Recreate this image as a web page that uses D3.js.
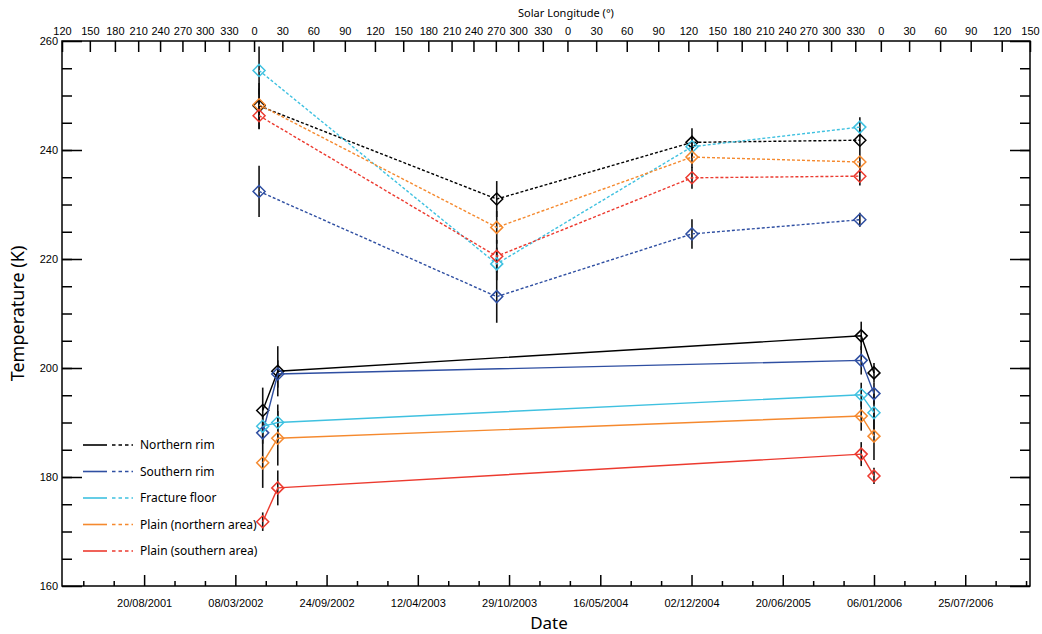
<!DOCTYPE html>
<html>
<head>
<meta charset="utf-8">
<script src="https://cdn.jsdelivr.net/npm/d3@7"></script>
<style>
	body { margin: 0; background: #fff; }
	svg { display: block; font-family: 'Noto Sans', sans-serif; }
	.axis text { font-size: 11px; fill: #000; }
	.axis line { stroke: #000; stroke-width: 1.5; }
	.axis path { display: none; }
</style>
</head>
<body>
<svg class="chart" width="1042" height="634"></svg>
<script>
(function() {

	// series
	var seriesNames = ['Northern rim', 'Southern rim', 'Fracture floor', 'Plain (northern area)', 'Plain (southern area)']
	var seriesColors = ['#000000', '#2f4fa2', '#3fc1e0', '#f5892e', '#ec3a2f']

	// daytime (dashed) observations
	var dayDates = ['2002-04-29', '2003-10-02', '2004-12-03', '2005-12-06']
	var dayTemps = [
		[248.1, 231.0, 241.4, 241.8],
		[232.4, 213.1, 224.6, 227.2],
		[254.6, 219.1, 240.6, 244.2],
		[248.3, 225.8, 238.7, 237.8],
		[246.3, 220.5, 234.9, 235.2]
	]
	var dayErrors = [
		[4.2, 3.3, 2.6, 2.0],
		[4.7, 4.8, 2.7, 1.3],
		[4.4, 3.0, 2.0, 1.8],
		[3.0, 3.0, 2.0, 2.0],
		[2.5, 3.0, 2.0, 1.7]
	]

	// nighttime (solid) observations
	var nightDates = ['2002-05-07', '2002-06-09', '2005-12-09', '2006-01-06']
	var nightTemps = [
		[192.2, 199.4, 205.9, 199.1],
		[188.1, 198.9, 201.4, 195.3],
		[189.3, 190.0, 195.1, 191.8],
		[182.6, 187.1, 191.2, 187.5],
		[171.8, 178.0, 184.2, 180.2]
	]
	var nightErrors = [
		[4.2, 4.6, 2.6, 1.8],
		[2.0, 2.5, 2.6, 2.0],
		[2.0, 3.3, 2.2, 3.5],
		[4.6, 5.0, 2.7, 4.4],
		[1.7, 3.2, 2.2, 1.5]
	]

	// axes
	var dateDomain = ['2001-02-21', '2006-12-14']
	var dateTickLabels = ['20/08/2001', '08/03/2002', '24/09/2002', '12/04/2003', '29/10/2003',
		'16/05/2004', '02/12/2004', '20/06/2005', '06/01/2006', '25/07/2006']
	var tempTicks = [160, 180, 200, 220, 240, 260]
	var lsTickLabels = [120, 150, 180, 210, 240, 270, 300, 330, 0, 30, 60, 90,
		120, 150, 180, 210, 240, 270, 300, 330, 0, 30, 60, 90,
		120, 150, 180, 210, 240, 270, 300, 330, 0, 30, 60, 90, 120, 150]
	var lsTickDates = ['2001-02-21', '2001-04-23', '2001-06-17', '2001-08-07', '2001-09-24', '2001-11-12',
		'2001-12-31', '2002-02-22', '2002-04-18', '2002-06-19', '2002-08-26', '2002-11-03',
		'2003-01-08', '2003-03-11', '2003-05-05', '2003-06-25', '2003-08-12', '2003-09-30',
		'2003-11-18', '2004-01-11', '2004-03-05', '2004-05-07', '2004-07-13', '2004-09-20',
		'2004-11-25', '2005-01-27', '2005-03-22', '2005-05-12', '2005-06-29', '2005-08-15',
		'2005-10-04', '2005-11-26', '2006-01-21', '2006-03-24', '2006-05-31', '2006-08-06',
		'2006-10-13', '2006-12-14']

	var svg = d3.select('.chart')
	var margin = { top: 41, left: 62, right: 12, bottom: 48 }
	var chartWidth = 1042 - margin.left - margin.right
	var chartHeight = 634 - margin.top - margin.bottom
	var parseIso = d3.timeParse('%Y-%m-%d')
	var parseDmy = d3.timeParse('%d/%m/%Y')
	var scales = {}

	var g = svg.append('g')
		.attr('transform', 'translate(' + margin.left + ',' + margin.top + ')')

	function setupScales() {
		scales.x = d3.scaleTime().domain(dateDomain.map(parseIso)).range([0, chartWidth])
		scales.y = d3.scaleLinear().domain([160, 260]).range([chartHeight, 0])
	}

	function buildPoints(dates, temps, errors) {
		return temps.map(function(row, i) {
			return row.map(function(t, j) {
				return { date: parseIso(dates[j]), temp: t, err: errors[i][j] }
			})
		})
	}

	function drawAxes() {
		var majors = dateTickLabels.map(parseDmy)
		var step = 200 / 3 * 864e5
		var minors = []
		var first = majors[0].getTime()
		for (var k = -2; k <= (majors.length - 1) * 3 + 2; k++) {
			if (k % 3 === 0) continue
			var t = new Date(first + k * step)
			if (t >= scales.x.domain()[0] && t <= scales.x.domain()[1]) minors.push(t)
		}

		g.append('g').attr('class', 'axis')
			.attr('transform', 'translate(0,' + chartHeight + ')')
			.call(d3.axisBottom(scales.x).tickValues(majors).tickSizeInner(-11).tickPadding(13)
				.tickFormat(function(d, i) { return dateTickLabels[i] }))

		g.append('g').attr('class', 'axis')
			.attr('transform', 'translate(0,' + chartHeight + ')')
			.call(d3.axisBottom(scales.x).tickValues(minors).tickSizeInner(-5).tickFormat(''))

		g.append('g').attr('class', 'axis')
			.call(d3.axisTop(scales.x).tickValues(lsTickDates.map(parseIso)).tickSizeInner(-11).tickPadding(6)
				.tickFormat(function(d, i) { return lsTickLabels[i] }))

		g.append('g').attr('class', 'axis')
			.call(d3.axisLeft(scales.y).tickValues(tempTicks).tickSizeInner(-20).tickPadding(4))

		g.append('g').attr('class', 'axis')
			.call(d3.axisLeft(scales.y).tickValues(d3.range(165, 260, 5)).tickSizeInner(-10).tickFormat(''))

		g.append('g').attr('class', 'axis')
			.attr('transform', 'translate(' + chartWidth + ',0)')
			.call(d3.axisRight(scales.y).tickValues(tempTicks).tickSizeInner(-20).tickFormat(''))

		g.append('g').attr('class', 'axis')
			.attr('transform', 'translate(' + chartWidth + ',0)')
			.call(d3.axisRight(scales.y).tickValues(d3.range(165, 260, 5)).tickSizeInner(-10).tickFormat(''))

		g.append('rect')
			.attr('width', chartWidth).attr('height', chartHeight)
			.attr('fill', 'none').attr('stroke', '#000').attr('stroke-width', 1.5)
	}

	function drawLabels() {
		svg.append('text')
			.attr('x', margin.left + chartWidth / 2 + 20).attr('y', 17)
			.attr('text-anchor', 'middle').attr('font-size', 11)
			.text('Solar Longitude (°)')

		svg.append('text')
			.attr('x', 549).attr('y', 629)
			.attr('text-anchor', 'middle').attr('font-size', 17)
			.text('Date')

		svg.append('text')
			.attr('text-anchor', 'middle').attr('font-size', 18)
			.attr('transform', 'translate(24,' + (margin.top + chartHeight / 2) + ')rotate(-90)')
			.text('Temperature (K)')
	}

	function drawSeries(points, dash) {
		var line = d3.line()
			.x(function(d) { return scales.x(d.date) })
			.y(function(d) { return scales.y(d.temp) })

		var all = d3.merge(points)
		g.append('g').selectAll('line')
			.data(all)
			.enter()
			.append('line')
			.attr('x1', function(d) { return scales.x(d.date) })
			.attr('x2', function(d) { return scales.x(d.date) })
			.attr('y1', function(d) { return scales.y(d.temp - d.err) })
			.attr('y2', function(d) { return scales.y(d.temp + d.err) })
			.attr('stroke', '#111').attr('stroke-width', 1.6)

		var groups = g.append('g').selectAll('g')
			.data(points)
			.enter()
			.append('g')
			.attr('stroke', function(d, i) { return seriesColors[i] })

		groups.append('path')
			.attr('d', line)
			.attr('fill', 'none')
			.attr('stroke-width', 1.4)
			.attr('stroke-dasharray', dash)

		groups.selectAll('.marker')
			.data(function(d) { return d })
			.enter()
			.append('path')
			.attr('class', 'marker')
			.attr('d', 'M0,-6L6,0L0,6L-6,0Z')
			.attr('fill', 'none')
			.attr('stroke-width', 1.5)
			.attr('transform', function(d) {
				return 'translate(' + scales.x(d.date) + ',' + scales.y(d.temp) + ')'
			})
	}

	function drawLegend() {
		var legend = svg.append('g').attr('class', 'legend')
		var rows = legend.selectAll('g')
			.data(seriesNames)
			.enter()
			.append('g')
			.attr('transform', function(d, i) { return 'translate(83,' + (445 + i * 26.5) + ')' })

		rows.append('line')
			.attr('x1', 0).attr('x2', 24)
			.attr('stroke', function(d, i) { return seriesColors[i] })
			.attr('stroke-width', 1.6)

		rows.append('line')
			.attr('x1', 29).attr('x2', 50)
			.attr('stroke', function(d, i) { return seriesColors[i] })
			.attr('stroke-width', 1.6)
			.attr('stroke-dasharray', '3.5,3')

		rows.append('text')
			.attr('x', 57).attr('dy', '0.35em')
			.attr('font-size', 12)
			.text(function(d) { return d })
	}

	function init() {
		setupScales()
		drawAxes()
		drawLabels()
		drawSeries(buildPoints(dayDates, dayTemps, dayErrors), '3,2')
		drawSeries(buildPoints(nightDates, nightTemps, nightErrors), null)
		drawLegend()
	}

	init()
})()
</script>
</body>
</html>
